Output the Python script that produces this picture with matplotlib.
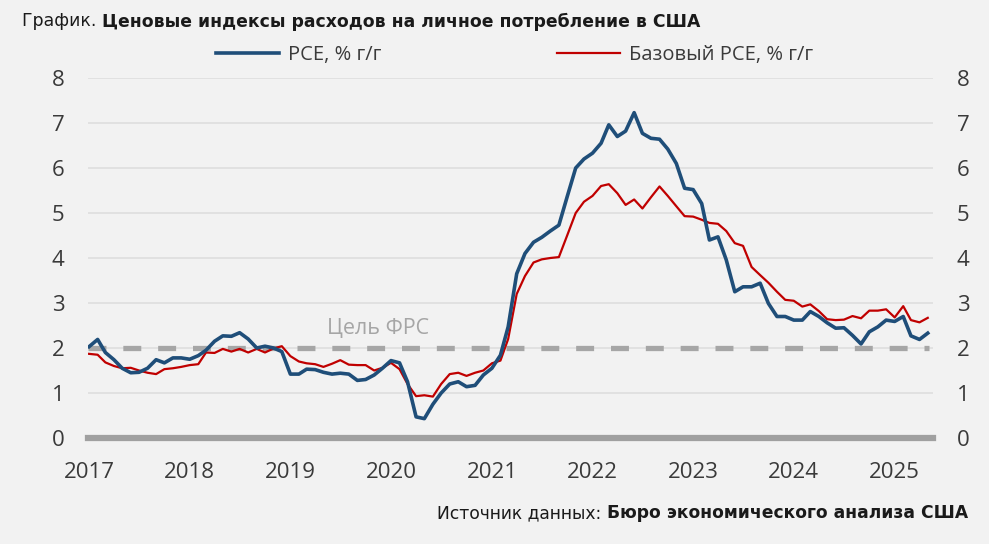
import pandas as pd
import matplotlib.pyplot as plt

# Данные: помесячно, янв 2017 - май 2025, % г/г
months = pd.date_range('2017-01-01', periods=101, freq='MS')

pce = [2.03, 2.19, 1.90, 1.74, 1.55, 1.45, 1.46, 1.55, 1.74, 1.67, 1.78, 1.78,
       1.75, 1.83, 1.95, 2.15, 2.27, 2.26, 2.34, 2.20, 2.00, 2.04, 2.00, 1.92,
       1.42, 1.42, 1.53, 1.52, 1.46, 1.42, 1.44, 1.42, 1.28, 1.30, 1.40, 1.55,
       1.72, 1.67, 1.25, 0.47, 0.43, 0.75, 1.00, 1.20, 1.25, 1.14, 1.17, 1.40,
       1.55, 1.84, 2.47, 3.65, 4.10, 4.35, 4.46, 4.60, 4.73, 5.36, 6.00, 6.20,
       6.33, 6.55, 6.96, 6.70, 6.82, 7.23, 6.77, 6.66, 6.64, 6.42, 6.10, 5.55,
       5.52, 5.21, 4.40, 4.47, 3.96, 3.25, 3.36, 3.36, 3.44, 2.99, 2.70, 2.70,
       2.62, 2.62, 2.81, 2.70, 2.56, 2.44, 2.45, 2.28, 2.09, 2.36, 2.47, 2.62,
       2.59, 2.70, 2.27, 2.19, 2.33]

core_pce = [1.87, 1.85, 1.68, 1.60, 1.55, 1.56, 1.50, 1.45, 1.42, 1.53, 1.55, 1.58,
            1.62, 1.64, 1.90, 1.89, 1.98, 1.92, 1.98, 1.90, 1.98, 1.90, 1.99, 2.04,
            1.82, 1.70, 1.66, 1.64, 1.58, 1.65, 1.73, 1.63, 1.62, 1.62, 1.50, 1.56,
            1.67, 1.53, 1.20, 0.93, 0.95, 0.92, 1.20, 1.42, 1.45, 1.38, 1.45, 1.50,
            1.66, 1.72, 2.20, 3.20, 3.60, 3.90, 3.97, 4.00, 4.02, 4.50, 5.00, 5.25,
            5.38, 5.60, 5.64, 5.44, 5.18, 5.30, 5.10, 5.35, 5.59, 5.38, 5.15, 4.93,
            4.92, 4.85, 4.78, 4.76, 4.60, 4.33, 4.27, 3.80, 3.62, 3.45, 3.25, 3.07,
            3.05, 2.92, 2.97, 2.82, 2.64, 2.62, 2.63, 2.71, 2.66, 2.83, 2.83, 2.86,
            2.68, 2.93, 2.62, 2.57, 2.67]

fed_target = 2
years = list(range(2017, 2026))

bg = '#f2f2f2'
text_color = '#3a3a3a'
plt.rcParams['font.family'] = ['Open Sans', 'DejaVu Sans']

fig = plt.figure(figsize=(9.89, 5.44), dpi=100, facecolor=bg)
ax = fig.add_axes([88 / 989, 1 - 438 / 544, 845 / 989, 360 / 544], facecolor=bg)

# сетка
for v in range(1, 9):
    ax.axhline(v, color='#dedede', lw=1.2, zorder=1)

# цель ФРС
ax.axhline(fed_target, xmin=0.0, xmax=0.995, color='#a6a6a6', lw=3.8,
           dashes=(3.4, 3.2), zorder=2)
ax.text(pd.Timestamp('2019-11-15'), 2.44, 'Цель ФРС', color='#a6a6a6',
        fontsize=15.5, ha='center', va='center', zorder=2)

# нулевая линия
ax.axhline(0, color='#a0a0a0', lw=4.5, zorder=2, clip_on=False)

ax.plot(months, pce, color='#1f4e79', lw=2.6, label='PCE, % г/г', zorder=4)
ax.plot(months, core_pce, color='#c00000', lw=1.6, label='Базовый PCE, % г/г', zorder=3)

ax.set_ylim(0, 8)
ax.set_xlim(pd.Timestamp('2016-12-28'), pd.Timestamp('2025-05-20'))
ax.set_yticks(range(0, 9))
ax.set_xticks([pd.Timestamp(f'{y}-01-01') for y in years])
ax.set_xticklabels([str(y) for y in years])
ax.tick_params(axis='y', length=0, labelsize=16, labelcolor=text_color,
               labelright=True, pad=17)
ax.tick_params(axis='x', length=0, labelsize=16, labelcolor=text_color, pad=17)
for s in ax.spines.values():
    s.set_visible(False)

fig.legend(loc='center', bbox_to_anchor=(514.5 / 989, 1 - 55 / 544), ncol=2,
           frameon=False, fontsize=14.5, handlelength=3.1, handletextpad=0.45,
           columnspacing=8.75, labelcolor=text_color)

# заголовок
fig.canvas.draw()
r = fig.canvas.get_renderer()
t1 = fig.text(22 / 989, 1 - 21.5 / 544, 'График. ', fontsize=12.4, color='#1a1a1a',
              ha='left', va='center', family='DejaVu Sans')
bb = t1.get_window_extent(r)
fig.text(bb.x1 / fig.bbox.width, 1 - 21.5 / 544,
         'Ценовые индексы расходов на личное потребление в США',
         fontsize=12.4, fontweight='bold', color='#1a1a1a', ha='left', va='center',
         family='DejaVu Sans')

# источник
t2 = fig.text(968 / 989, 1 - 513 / 544, 'Бюро экономического анализа США',
              fontsize=12.3, fontweight='bold', color='#1a1a1a', ha='right', va='center',
              family='DejaVu Sans')
bb = t2.get_window_extent(r)
fig.text(bb.x0 / fig.bbox.width, 1 - 513 / 544, 'Источник данных: ',
         fontsize=12.3, color='#1a1a1a', ha='right', va='center', family='DejaVu Sans')

plt.savefig('out.png', dpi=100, facecolor=bg)
